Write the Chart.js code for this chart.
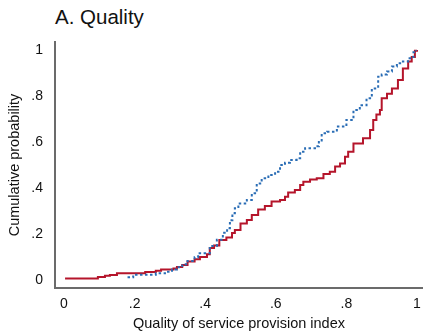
<!DOCTYPE html>
<html>
<head>
<meta charset="utf-8">
<script src="https://cdn.jsdelivr.net/npm/chart.js@4/dist/chart.umd.min.js"></script>
<style>
  html, body { margin: 0; padding: 0; background: #ffffff; }
  #wrap { position: relative; width: 423px; height: 333px; }
  #heading {
    position: absolute; left: 55px; top: 7px;
    font: 20.5px "Liberation Sans", Arial, sans-serif; line-height: 20px;
    color: #111111; white-space: nowrap;
  }
  canvas { position: absolute; left: 0; top: 0; }
</style>
</head>
<body>
<div id="wrap">
  <div id="heading">A. Quality</div>
  <canvas id="cdf" width="423" height="333"></canvas>
</div>
<script>
// Empirical cumulative distributions of the quality of service provision index

// solid series: index value, cumulative share
const solidX = [0.003, 0.096, 0.116, 0.13, 0.15, 0.23, 0.26, 0.275, 0.31, 0.32, 0.335, 0.35, 0.37, 0.385,
  0.405, 0.413, 0.425, 0.44, 0.46, 0.476, 0.484, 0.5, 0.518, 0.532, 0.55, 0.569, 0.588, 0.612, 0.626, 0.635,
  0.654, 0.669, 0.678, 0.697, 0.716, 0.735, 0.753, 0.768, 0.782, 0.796, 0.805, 0.82, 0.847, 0.867, 0.876,
  0.885, 0.895, 0.9, 0.915, 0.929, 0.946, 0.96, 0.975, 0.985, 0.994, 1.0];
const solidY = [0.007, 0.013, 0.018, 0.022, 0.029, 0.035, 0.040, 0.046, 0.050, 0.057, 0.065, 0.080, 0.090, 0.100,
  0.112, 0.139, 0.150, 0.174, 0.185, 0.204, 0.217, 0.246, 0.261, 0.283, 0.307, 0.322, 0.341, 0.348, 0.362, 0.380,
  0.391, 0.413, 0.427, 0.437, 0.442, 0.461, 0.471, 0.493, 0.507, 0.536, 0.558, 0.594, 0.616, 0.652, 0.696,
  0.720, 0.739, 0.790, 0.810, 0.833, 0.870, 0.920, 0.950, 0.970, 0.997, 1.0];

// dotted series: index value, cumulative share
const dottedX = [0.18, 0.196, 0.26, 0.286, 0.306, 0.32, 0.335, 0.35, 0.37, 0.38, 0.413, 0.433, 0.45, 0.462,
  0.47, 0.477, 0.484, 0.494, 0.518, 0.532, 0.546, 0.56, 0.579, 0.598, 0.612, 0.626, 0.64, 0.659, 0.669, 0.683,
  0.711, 0.722, 0.73, 0.745, 0.773, 0.8, 0.82, 0.838, 0.857, 0.872, 0.89, 0.9, 0.915, 0.929, 0.943, 0.96,
  0.975, 0.985, 0.99, 0.997];
const dottedY = [0.012, 0.023, 0.029, 0.036, 0.046, 0.055, 0.068, 0.083, 0.099, 0.116, 0.148, 0.175, 0.205, 0.225,
  0.260, 0.290, 0.312, 0.333, 0.348, 0.377, 0.420, 0.442, 0.457, 0.471, 0.500, 0.510, 0.522, 0.529, 0.558, 0.573,
  0.582, 0.600, 0.638, 0.645, 0.667, 0.696, 0.739, 0.760, 0.790, 0.833, 0.884, 0.894, 0.906, 0.928, 0.942, 0.950,
  0.964, 0.970, 0.990, 1.0];

// axis ticks and their labels
const xTickValues = [0, 0.2, 0.4, 0.6, 0.8, 1];
const xTickLabels = ['0', '.2', '.4', '.6', '.8', '1'];
const yTickValues = [0, 0.2, 0.4, 0.6, 0.8, 1];
const yTickLabels = ['0', '.2', '.4', '.6', '.8', '1'];

const toPoints = (xs, ys) => xs.map((x, i) => ({ x: x, y: ys[i] }));

const textFont = { family: '"Liberation Sans", Arial, sans-serif', size: 14.5 };
const axisColor = '#6b6b6b';

new Chart(document.getElementById('cdf'), {
  type: 'line',
  data: {
    datasets: [
      {
        data: toPoints(dottedX, dottedY),
        borderColor: '#2a6db5',
        borderWidth: 2,
        borderDash: [2.5, 2.5],
        stepped: true,
        pointRadius: 0,
        fill: false
      },
      {
        data: toPoints(solidX, solidY),
        borderColor: '#b5152b',
        borderWidth: 2,
        stepped: true,
        pointRadius: 0,
        fill: false
      }
    ]
  },
  options: {
    responsive: false,
    animation: false,
    devicePixelRatio: 1,
    layout: { padding: { top: 42, right: 0, bottom: 0, left: 0 } },
    plugins: { legend: { display: false }, tooltip: { enabled: false } },
    scales: {
      x: {
        type: 'linear',
        min: -0.0255,
        max: 1.017,
        afterFit: s => { s.height = 45; s.paddingLeft = 0; s.paddingRight = 0; },
        afterBuildTicks: s => { s.ticks = xTickValues.map(v => ({ value: v })); },
        grid: { display: false, drawTicks: false },
        border: { display: true, color: axisColor, width: 2 },
        ticks: {
          padding: 8,
          color: '#111111',
          font: { family: textFont.family, size: 14 },
          maxRotation: 0,
          callback: (v, i) => xTickLabels[i]
        },
        title: {
          display: true,
          text: 'Quality of service provision index',
          color: '#111111',
          font: textFont,
          padding: { top: 0, bottom: 0 }
        }
      },
      y: {
        type: 'linear',
        min: -0.0348,
        max: 1.0348,
        afterFit: s => { s.width = 55; s.paddingTop = 0; s.paddingBottom = 0; },
        afterBuildTicks: s => { s.ticks = yTickValues.map(v => ({ value: v })); },
        grid: { display: false, drawTicks: false },
        border: { display: true, color: axisColor, width: 2 },
        ticks: {
          padding: 12,
          color: '#111111',
          font: { family: textFont.family, size: 14 },
          callback: (v, i) => yTickLabels[i]
        },
        title: {
          display: true,
          text: 'Cumulative probability',
          color: '#111111',
          font: textFont,
          padding: { top: 6, bottom: 0 }
        }
      }
    }
  }
});
</script>
</body>
</html>
